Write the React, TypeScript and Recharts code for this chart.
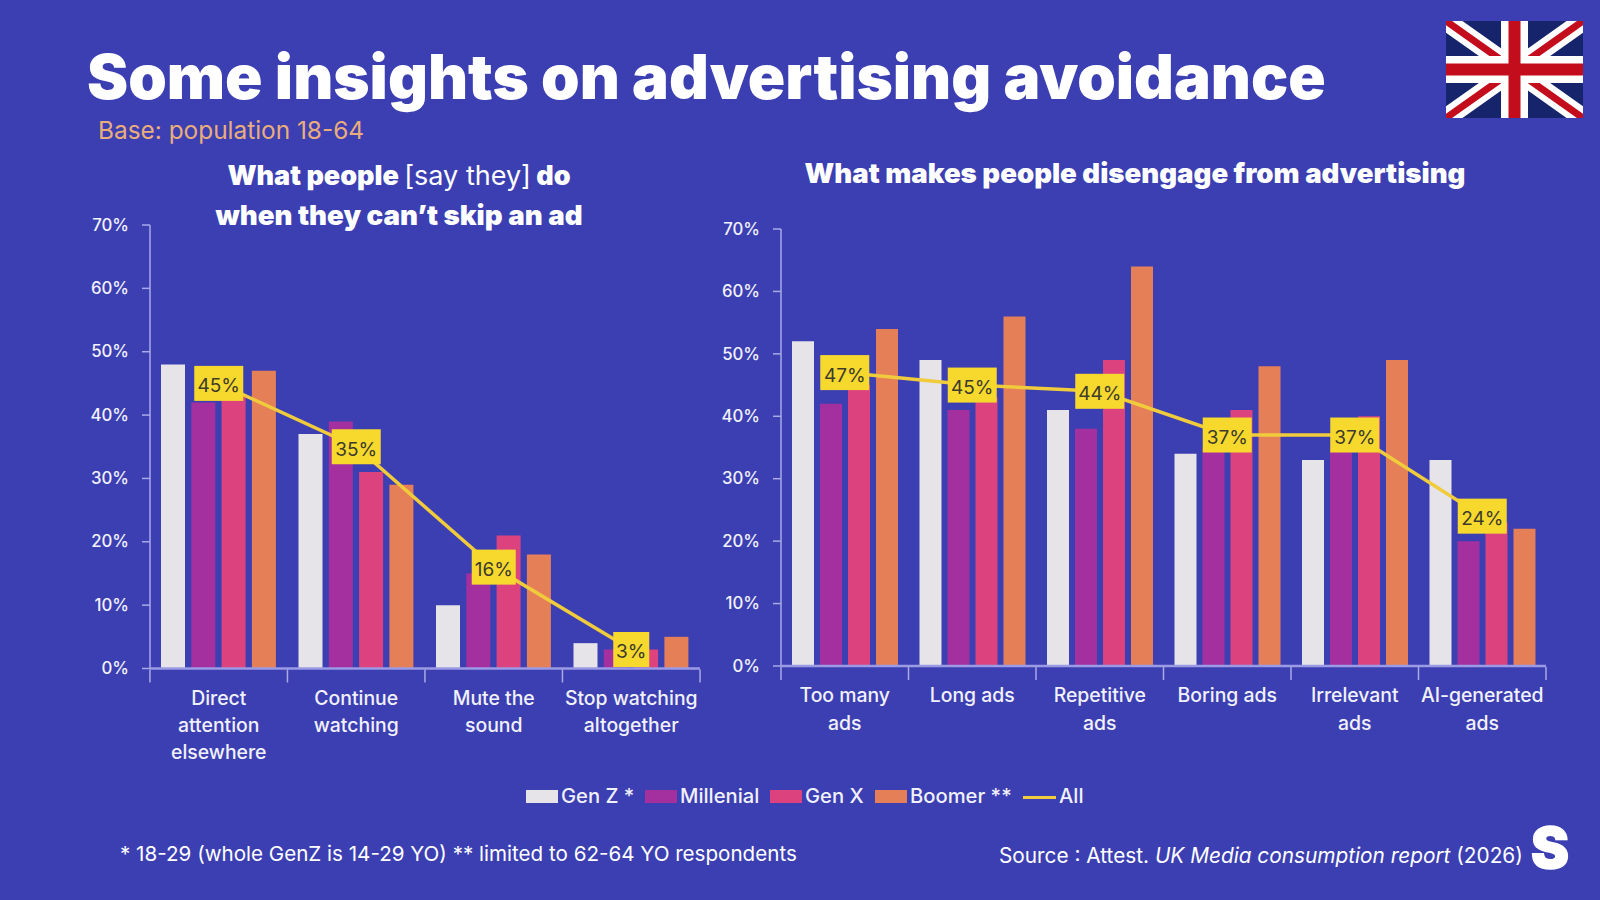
import React from "react";
import { ComposedChart, Bar, Line, XAxis, YAxis, LabelList } from "recharts";

const attentionCategories = ["Direct\nattention\nelsewhere", "Continue\nwatching", "Mute the\nsound", "Stop watching\naltogether"];
const attentionGenZ = [48, 37, 10, 4];
const attentionMillenial = [42, 39, 15, 3];
const attentionGenX = [43, 31, 21, 3];
const attentionBoomer = [47, 29, 18, 5];
const attentionAll = [45, 35, 16, 3];

const disengageCategories = ["Too many\nads", "Long ads", "Repetitive\nads", "Boring ads", "Irrelevant\nads", "AI-generated\nads"];
const disengageGenZ = [52, 49, 41, 34, 33, 33];
const disengageMillenial = [42, 41, 38, 35, 35, 20];
const disengageGenX = [45, 43, 49, 41, 40, 23];
const disengageBoomer = [54, 56, 64, 48, 49, 22];
const disengageAll = [47, 45, 44, 37, 37, 24];

const yTicks = [0, 10, 20, 30, 40, 50, 60, 70];

const BG = "#3c3fb2";
const FONT = "Inter, 'Noto Sans', sans-serif";
const AXIS = "#a9aae6";
const TEXT = "#f1f1fb";

const series = [
  { key: "genZ", name: "Gen Z *", color: "#e6e4e8" },
  { key: "millenial", name: "Millenial", color: "#a4309f" },
  { key: "genX", name: "Gen X", color: "#dc437e" },
  { key: "boomer", name: "Boomer **", color: "#e57f58" },
];
const LINE_COLOR = "#f0cb3c";

function buildRows(cats: string[], a: number[], b: number[], c: number[], d: number[], all: number[]) {
  return cats.map((name, i) => ({ name, genZ: a[i], millenial: b[i], genX: c[i], boomer: d[i], all: all[i] }));
}

function CategoryTick(props: any) {
  const { x, y, payload, step, lineGap, dy } = props;
  const lines = String(payload.value).split("\n");
  return (
    <g>
      <line x1={x - step / 2} x2={x - step / 2} y1={y - 7} y2={y + 6} stroke={AXIS} strokeWidth={1.5} />
      {payload.index === props.lastIndex && (
        <line x1={x + step / 2} x2={x + step / 2} y1={y - 7} y2={y + 6} stroke={AXIS} strokeWidth={1.5} />
      )}
      {lines.map((l: string, i: number) => (
        <text key={i} x={x} y={y + dy + i * lineGap} textAnchor="middle" fontSize={19.4} fontWeight={500} fontFamily={FONT} fill={TEXT}>
          {l}
        </text>
      ))}
    </g>
  );
}

function ValueBadge(props: any) {
  const { x, y, value } = props;
  const text = `${value}%`;
  const w = text.length === 2 ? 36 : text.includes("1") ? 44 : 49;
  return (
    <g>
      <rect x={x - w / 2} y={y - 17.5} width={w} height={35} fill="#f7d92e" />
      <text x={x} y={y + 9} textAnchor="middle" fontSize={19} fontWeight={400} fontFamily={FONT} fill="#3d3b2c">
        {text}
      </text>
    </g>
  );
}

function Panel(props: any) {
  const { rows, left, top, width, height, margin, barSize, barGap, step, dy, lineGap } = props;
  return (
    <div style={{ position: "absolute", left, top }}>
      <ComposedChart width={width} height={height} data={rows} margin={margin} barSize={barSize} barGap={barGap}>
        <XAxis
          dataKey="name"
          height={100}
          interval={0}
          axisLine={{ stroke: "#9a9be4", strokeWidth: 2.5 }}
          tickLine={false}
          tick={<CategoryTick step={step} dy={dy} lineGap={lineGap} lastIndex={rows.length - 1} />}
        />
        <YAxis
          width={50}
          domain={[0, 70]}
          ticks={yTicks}
          tickFormatter={(v: number) => `${v}%`}
          axisLine={{ stroke: AXIS, strokeWidth: 1.5 }}
          tickLine={{ stroke: AXIS, strokeWidth: 1.5 }}
          tickSize={8}
          tickMargin={13}
          tick={{ fill: TEXT, fontSize: 16.8, fontWeight: 500, fontFamily: FONT, dy: -0.3 }}
        />
        {series.map((s) => (
          <Bar key={s.key} dataKey={s.key} fill={s.color} isAnimationActive={false} />
        ))}
        <Line dataKey="all" stroke={LINE_COLOR} strokeWidth={3.5} dot={false} isAnimationActive={false}>
          <LabelList dataKey="all" content={<ValueBadge />} />
        </Line>
      </ComposedChart>
    </div>
  );
}

function Flag() {
  return (
    <svg style={{ position: "absolute", left: 1446, top: 21 }} width={137} height={97} viewBox="0 0 137 97">
      <rect width={137} height={97} fill="#16256b" />
      <path d="M0,0 L137,97 M137,0 L0,97" stroke="#fff" strokeWidth={19} />
      <path d="M0,0 L137,97 M137,0 L0,97" stroke="#c30d1c" strokeWidth={7} />
      <path d="M68.5,0 V97 M0,48.5 H137" stroke="#fff" strokeWidth={27} />
      <path d="M68.5,0 V97 M0,48.5 H137" stroke="#c30d1c" strokeWidth={12} />
    </svg>
  );
}

const abs = (left: number, top: number, extra: React.CSSProperties = {}): React.CSSProperties => ({
  position: "absolute",
  left,
  top,
  fontFamily: FONT,
  color: "#fff",
  whiteSpace: "nowrap",
  lineHeight: 1,
  ...extra,
});

export default function App() {
  const attentionRows = buildRows(attentionCategories, attentionGenZ, attentionMillenial, attentionGenX, attentionBoomer, attentionAll);
  const disengageRows = buildRows(disengageCategories, disengageGenZ, disengageMillenial, disengageGenX, disengageBoomer, disengageAll);
  const legendItems = [
    { swatch: 526, text: 561, item: series[0] },
    { swatch: 645, text: 680, item: series[1] },
    { swatch: 770, text: 805, item: series[2] },
    { swatch: 875, text: 910, item: series[3] },
  ];
  return (
    <div style={{ position: "absolute", left: 0, top: 0, width: 1600, height: 900, background: BG, overflow: "hidden" }}>
      <div style={abs(87, 46, { fontSize: 61.8, fontWeight: 900 })}>Some insights on advertising avoidance</div>
      <div style={abs(98, 118, { fontSize: 24.4, color: "#e9ad7c" })}>Base: population 18-64</div>
      <div style={abs(199, 162, { width: 400, textAlign: "center", fontSize: 27, fontWeight: 900 })}>
        What people <span style={{ fontWeight: 400 }}>[say they]</span> do
      </div>
      <div style={abs(199, 202, { width: 400, textAlign: "center", fontSize: 27.7, fontWeight: 900 })}>when they can’t skip an ad</div>
      <div style={abs(735, 160, { width: 800, textAlign: "center", fontSize: 27.6, fontWeight: 900 })}>What makes people disengage from advertising</div>

      <Panel rows={attentionRows} left={0} top={0} width={760} height={800} margin={{ top: 225, right: 60, bottom: 31.5, left: 100 }}
        barSize={24} barGap={6.3} step={137.6} dy={28} lineGap={27} />
      <Panel rows={disengageRows} left={700} top={0} width={900} height={800} margin={{ top: 229, right: 54, bottom: 34, left: 31 }}
        barSize={22} barGap={6} step={127.5} dy={28} lineGap={28} />

      {legendItems.map(({ swatch, text, item }) => (
        <React.Fragment key={item.key}>
          <div style={{ position: "absolute", left: swatch, top: 790, width: 32, height: 13, background: item.color }} />
          <div style={abs(text, 786, { fontSize: 20.2, fontWeight: 500, color: TEXT })}>{item.name}</div>
        </React.Fragment>
      ))}
      <div style={{ position: "absolute", left: 1023, top: 796, width: 33, height: 3, background: LINE_COLOR }} />
      <div style={abs(1059, 786, { fontSize: 20.2, fontWeight: 500, color: TEXT })}>All</div>

      <div style={abs(120, 844, { fontSize: 20.6 })}>* 18-29 (whole GenZ is 14-29 YO) ** limited to 62-64 YO respondents</div>
      <div style={abs(999, 846, { fontSize: 20.8 })}>
        Source : Attest. <i>UK Media consumption report</i> (2026)
      </div>
      <div style={abs(1531, 819, { fontSize: 57, fontWeight: 900, WebkitTextStroke: "1.5px #fff" })}>S</div>
      <Flag />
    </div>
  );
}
